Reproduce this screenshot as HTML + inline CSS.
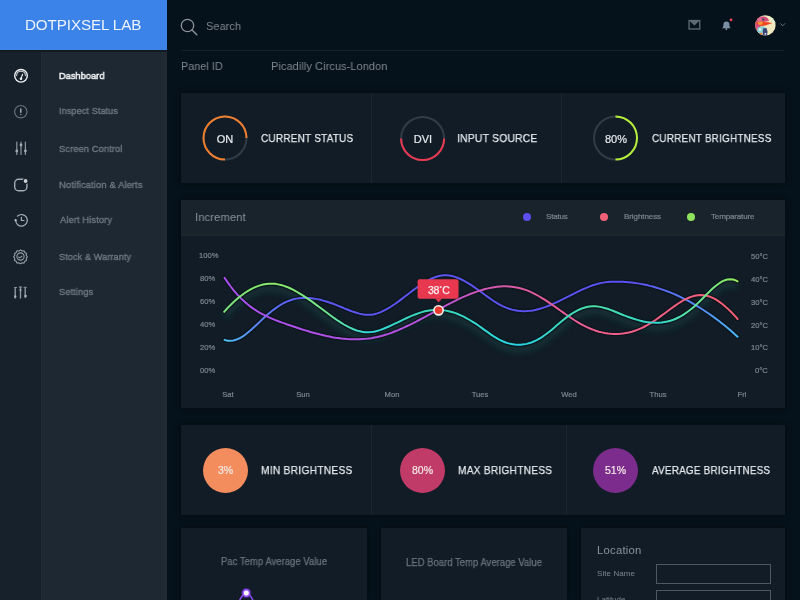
<!DOCTYPE html>
<html><head><meta charset="utf-8"><title>Dashboard</title>
<style>
*{margin:0;padding:0;box-sizing:border-box}
html,body{width:800px;height:600px;overflow:hidden;background:#06121b;font-family:"Liberation Sans",Arial,sans-serif}
.a{position:absolute}
.t,.mi,.lbl,.num,.yl,.xl,.lg,.circ,.sub{will-change:transform}
.t{position:absolute;white-space:nowrap;line-height:1}
#logo{left:0;top:0;width:167px;height:50px;background:#3b83e8}
#icol{left:0;top:50px;width:41px;height:550px;background:#16212b;border-right:1px solid #141e27}
#tcol{left:41px;top:50px;width:126px;height:550px;background:#1d2832;border-left:1px solid #212c36}
.mi{position:absolute;left:58px;font-size:9.6px;color:#6f7982;white-space:nowrap;line-height:1;-webkit-text-stroke:0.35px #6f7982}
.mi.on{color:#f0f2f4;-webkit-text-stroke:0.5px #f0f2f4}
.card{position:absolute;background:#111c26;box-shadow:0 0 5px 1px rgba(0,4,8,0.45)}
.lbl{position:absolute;color:#e6eaee;font-size:11.8px;white-space:nowrap;line-height:1;-webkit-text-stroke:0.25px #e6eaee}
.num{position:absolute;color:#e6eaee;font-size:11px;text-align:center;width:46px;line-height:1;-webkit-text-stroke:0.2px #e6eaee}
.yl{position:absolute;color:#7d868f;font-size:7.6px;line-height:1;white-space:nowrap;-webkit-text-stroke:0.2px #7d868f}
.xl{position:absolute;color:#7d868f;font-size:7.6px;line-height:1;white-space:nowrap;text-align:center;width:40px;-webkit-text-stroke:0.2px #7d868f}
.lg{position:absolute;color:#7d868f;font-size:8px;line-height:1;white-space:nowrap;-webkit-text-stroke:0.2px #7d868f}
.dot{position:absolute;width:8px;height:8px;border-radius:50%}
.vdiv{position:absolute;width:1px;background:#1b252e}
.circ{position:absolute;width:45px;height:45px;border-radius:50%;color:#f3e9e6;font-size:10.5px;line-height:45px;text-align:center;-webkit-text-stroke:0.2px #f3e9e6}
.sub{position:absolute;color:#6a737c;font-size:10px;line-height:1;white-space:nowrap;-webkit-text-stroke:0.25px #6a737c}
#logo_t{left:25.02px;top:16.58px;letter-spacing:-0.105px}#search{left:206.10px;top:21.40px;letter-spacing:0.100px;transform:scaleX(0.9264);transform-origin:0 0}#panelid{left:180.52px;top:60.90px;letter-spacing:0.100px;transform:scaleX(0.9059);transform-origin:0 0}#picad{left:270.60px;top:60.90px;letter-spacing:0.100px;transform:scaleX(0.9269);transform-origin:0 0}#m1{left:58.50px;top:71.40px;letter-spacing:0.100px;transform:scaleX(0.9514);transform-origin:0 0}#m2{left:58.50px;top:105.50px;letter-spacing:0.100px;transform:scaleX(0.9485);transform-origin:0 0}#m3{left:58.94px;top:143.90px;letter-spacing:0.100px;transform:scaleX(0.9702);transform-origin:0 0}#m4{left:58.94px;top:180.38px;letter-spacing:0.100px;transform:scaleX(0.9798);transform-origin:0 0}#m5{left:59.90px;top:215.44px;letter-spacing:0.100px;transform:scaleX(0.9713);transform-origin:0 0}#m6{left:58.92px;top:251.86px;letter-spacing:0.100px;transform:scaleX(0.9513);transform-origin:0 0}#m7{left:58.92px;top:287.42px;letter-spacing:0.100px;transform:scaleX(0.9664);transform-origin:0 0}#l1{left:261.46px;top:133.38px;letter-spacing:0.300px;transform:scaleX(0.8423);transform-origin:0 0}#l2{left:456.60px;top:133.38px;letter-spacing:0.300px;transform:scaleX(0.8706);transform-origin:0 0}#l3{left:651.50px;top:133.38px;letter-spacing:0.300px;transform:scaleX(0.8368);transform-origin:0 0}#l4{left:260.52px;top:465.40px;letter-spacing:0.300px;transform:scaleX(0.8659);transform-origin:0 0}#l5{left:458.04px;top:465.40px;letter-spacing:0.300px;transform:scaleX(0.8587);transform-origin:0 0}#l6{left:652.40px;top:465.40px;letter-spacing:0.300px;transform:scaleX(0.8362);transform-origin:0 0}#incr{left:195.10px;top:212.40px;letter-spacing:0.100px;transform:scaleX(0.9508);transform-origin:0 0}#lg1{left:545.90px;top:213.38px;letter-spacing:-0.180px}#lg2{left:623.92px;top:213.38px;letter-spacing:-0.080px}#lg3{left:711.40px;top:213.38px;letter-spacing:-0.144px}#pac{left:220.50px;top:557.30px;letter-spacing:0.100px;transform:scaleX(0.9357);transform-origin:0 0}#led{left:405.50px;top:557.76px;letter-spacing:0.100px;transform:scaleX(0.9339);transform-origin:0 0}#loc{left:596.52px;top:545.36px;letter-spacing:0.231px}#site{left:596.52px;top:570.38px;letter-spacing:0.090px}
</style></head><body>
<div id="logo" class="a"></div>
<div class="t" id="logo_t" style="font-size:15.2px;color:#eef3fb">DOTPIXSEL LAB</div>
<div id="icol" class="a"></div>
<div id="tcol" class="a"></div>
<div class="a" style="left:0;top:50px;width:167px;height:2px;background:#131a22"></div>
<div class="a" style="left:162px;top:52px;width:5px;height:548px;background:#1f2a33"></div>

<!-- sidebar icons -->
<svg class="a" style="left:0;top:50px" width="41" height="260" viewBox="0 50 41 260" fill="none" stroke-linecap="round" stroke-linejoin="round">
 <g stroke="#eef0f2"><circle cx="21" cy="75.8" r="6.3" stroke-width="1.4"/><path d="M16.6 75.6a4.4 4.4 0 0 1 8.8 0" stroke-width="1.1" stroke="#c9ced3"/><path d="M21 78.6l1.6-4.3" stroke-width="1.1"/></g>
 <circle cx="21" cy="78.7" r="1.3" fill="#eef0f2"/>
 <circle cx="20.8" cy="111.7" r="6.2" stroke="#68727c" stroke-width="1.2"/>
 <path d="M20.8 109v3.2" stroke="#a3abb3" stroke-width="1.5"/><circle cx="20.8" cy="114.4" r="0.75" fill="#8a939c"/>
 <g stroke="#8d969e" stroke-width="1.2"><path d="M16.8 142v12.5M21 142v12.5M25.4 142v12.5"/></g>
 <g fill="#a2aab1"><circle cx="16.8" cy="151" r="1.4"/><circle cx="21" cy="145" r="1.4"/><circle cx="25.4" cy="151" r="1.4"/></g>
 <rect x="14.7" y="179.3" width="12.2" height="11.4" rx="3.8" stroke="#a5adb4" stroke-width="1.4"/>
 <circle cx="25.6" cy="181" r="3" fill="#16212b"/>
 <circle cx="25.6" cy="181" r="1.9" fill="#ccd1d5"/>
 <g stroke="#a6aeb5" stroke-width="1.2"><path d="M15.7 220.3A5.8 5.8 0 1 0 17.4 216.2"/><path d="M21.4 217.3v3.2h2.6"/></g>
 <circle cx="15.6" cy="220.2" r="1.1" fill="#c5cbd0"/>
 <g stroke="#959ea6" stroke-width="1.1"><path d="M20.5 249.9l1.6 1.1 1.9-0.3 0.8 1.8 1.7 0.9-0.3 1.9 1.1 1.6-1.1 1.6 0.3 1.9-1.7 0.9-0.8 1.8-1.9-0.3-1.6 1.1-1.6-1.1-1.9 0.3-0.8-1.8-1.7-0.9 0.3-1.9-1.1-1.6 1.1-1.6-0.3-1.9 1.7-0.9 0.8-1.8 1.9 0.3z"/><circle cx="20.5" cy="256.5" r="3.6"/><path d="M18.7 257l1 0.9 2.2-1.6"/></g>
 <g stroke="#8d979f" stroke-width="1.4"><path d="M15.2 288.5v9.5M20.5 287.5v10.5M25.2 288v9.5"/></g>
 <g stroke="#8d979f" stroke-width="1"><path d="M14.5 287.5h2M19.2 287h2.6M24 287.3l2.4 0"/></g>
 <g fill="#aab2b9"><circle cx="15.2" cy="296.5" r="1.2"/><circle cx="20.5" cy="290" r="1"/><circle cx="25.6" cy="296" r="1.3"/></g>
</svg>

<!-- sidebar texts -->
<div class="mi on" id="m1">Dashboard</div>
<div class="mi" id="m2">Inspect Status</div>
<div class="mi" id="m3">Screen Control</div>
<div class="mi" id="m4">Notification &amp; Alerts</div>
<div class="mi" id="m5">Alert History</div>
<div class="mi" id="m6">Stock &amp; Warranty</div>
<div class="mi" id="m7">Settings</div>

<!-- top bar -->
<svg class="a" style="left:178px;top:16px" width="24" height="24" viewBox="178 16 24 24" fill="none"><circle cx="187.5" cy="25.5" r="6.2" stroke="#8b9299" stroke-width="1.3"/><path d="M192 30l4.8 4.8" stroke="#8b9299" stroke-width="1.4" stroke-linecap="round"/></svg>
<div class="t" id="search" style="font-size:11.8px;color:#7f878e">Search</div>
<svg class="a" style="left:686px;top:16px" width="100" height="20" viewBox="686 16 100 20">
 <rect x="689.1" y="20.6" width="10.6" height="8.4" fill="none" stroke="#55606b" stroke-width="1.5"/>
 <path d="M688.6 20h11.6l-5.8 5.4z" fill="#5f6a75"/>
 <path d="M721.9 28.3c1.1-0.8 1.5-2.1 1.5-3.9a3 3 0 0 1 6 0c0 1.8 0.4 3.1 1.5 3.9z" fill="#7a8ea4"/>
 <circle cx="726.4" cy="28.9" r="1" fill="#7a8ea4"/>
 <circle cx="731" cy="19.8" r="1.9" fill="#06121b"/><circle cx="731" cy="19.8" r="1.4" fill="#ec4a5c"/>
 <path d="M780.3 23.4l2.4 2.4 2.4-2.4" fill="none" stroke="#6c7680" stroke-width="1"/>
</svg>
<svg class="a" style="left:754px;top:14px" width="23" height="23" viewBox="0 0 23 23">
 <defs><clipPath id="av"><circle cx="11.4" cy="11.4" r="10.2"/></clipPath><filter id="avb"><feGaussianBlur stdDeviation="0.5"/></filter></defs>
 <circle cx="11.4" cy="11.4" r="10.2" fill="#f1e8bf"/>
 <g clip-path="url(#av)"><g filter="url(#avb)">
  <path d="M15 1l8 0 0 9-5-2z" fill="#e4efd2"/>
  <path d="M1 9C2 4 6 2 10 2.5c3 0.3 4.5 2 5 4.5L9 8z" fill="#d64d7c"/>
  <circle cx="5.5" cy="5.5" r="2.3" fill="#e46a90"/>
  <path d="M1 8.5L10 7.5l8.5 1.5-7 2.5L2 13z" fill="#ee4824"/>
  <path d="M4 8l5-0.5-1 3-4 1z" fill="#f59a30"/>
  <path d="M0 10l4-0.5 2.5 2.5-2 5-4.5 1z" fill="#d94a78"/>
  <path d="M3.5 13.5l5-1.2 3 0.8-0.5 4-4 2.5-4-1.5z" fill="#86cfd2"/>
  <circle cx="6" cy="15.5" r="1.3" fill="#e8f4f4"/>
  <path d="M9 14.5l3.5-0.5 1 3.5-0.5 5-4.5 0z" fill="#3a4374"/>
  <circle cx="6.8" cy="20.2" r="1.4" fill="#f08440"/>
  <circle cx="11.4" cy="19.8" r="0.9" fill="#eef0f6"/>
  <circle cx="9.2" cy="5.6" r="1.1" fill="#2d5c52"/>
 </g></g>
</svg>
<div class="a" style="left:181px;top:50px;width:603px;height:1px;background:#18212a"></div>
<div class="t" id="panelid" style="font-size:11.8px;color:#7f878f">Panel ID</div>
<div class="t" id="picad" style="font-size:11.8px;color:#7f878f">Picadilly Circus-London</div>

<!-- row 1 cards -->
<div class="card" style="left:181px;top:93px;width:604px;height:90px"></div>
<div class="vdiv" style="left:371px;top:93px;height:90px"></div>
<div class="vdiv" style="left:561px;top:93px;height:90px"></div>
<svg class="a" style="left:182px;top:93px" width="604" height="90" viewBox="182 93 604 90" fill="none" stroke-width="2">
 <circle cx="225" cy="138" r="21.5" stroke="#313c47"/>
 <path d="M246.5 138A21.5 21.5 0 1 0 225 159.5" stroke="#ef7e2e"/>
 <circle cx="422.6" cy="138.5" r="21.5" stroke="#313c47"/>
 <path d="M401.1 138.5A21.5 21.5 0 0 0 444.1 138.5" stroke="#e9384f"/>
 <circle cx="615.5" cy="138" r="21.5" stroke="#313c47"/>
 <path d="M615.5 116.5A21.5 21.5 0 0 1 615.5 159.5" stroke="#b6ee3a"/>
</svg>
<div class="num" style="left:202px;top:133.5px">ON</div>
<div class="num" style="left:399.6px;top:133.5px">DVI</div>
<div class="num" style="left:592.5px;top:133.5px">80%</div>
<div class="lbl" id="l1">CURRENT STATUS</div>
<div class="lbl" id="l2">INPUT SOURCE</div>
<div class="lbl" id="l3">CURRENT BRIGHTNESS</div>

<!-- chart -->
<div class="card" style="left:181px;top:200px;width:604px;height:208px"></div>
<div class="a" style="left:181px;top:200px;width:604px;height:36px;background:#18232c;border-bottom:2px solid #1c2730"></div>
<div class="t" id="incr" style="font-size:11.8px;color:#8a939b">Increment</div>
<div class="dot" style="left:523px;top:213px;background:#5b4ff0"></div>
<div class="dot" style="left:600px;top:213px;background:#f06079"></div>
<div class="dot" style="left:687px;top:213px;background:#8fe35a"></div>
<div class="lg" id="lg1">Status</div>
<div class="lg" id="lg2">Brightness</div>
<div class="lg" id="lg3">Temparature</div>

<div class="yl" style="left:199px;top:251.5px">100%</div>
<div class="yl" style="left:200px;top:274.5px">80%</div>
<div class="yl" style="left:200px;top:297.5px">60%</div>
<div class="yl" style="left:200px;top:320.5px">40%</div>
<div class="yl" style="left:200px;top:343.5px">20%</div>
<div class="yl" style="left:200px;top:366.5px">00%</div>
<div class="yl" style="left:751px;top:252.5px">50°C</div>
<div class="yl" style="left:751px;top:275.5px">40°C</div>
<div class="yl" style="left:751px;top:298.5px">30°C</div>
<div class="yl" style="left:751px;top:321.5px">20°C</div>
<div class="yl" style="left:751px;top:343.5px">10°C</div>
<div class="yl" style="left:755px;top:366.5px">0°C</div>
<div class="xl" style="left:208px;top:390.5px">Sat</div>
<div class="xl" style="left:283px;top:390.5px">Sun</div>
<div class="xl" style="left:371.6px;top:390.5px">Mon</div>
<div class="xl" style="left:460px;top:390.5px">Tues</div>
<div class="xl" style="left:549px;top:390.5px">Wed</div>
<div class="xl" style="left:637.6px;top:390.5px">Thus</div>
<div class="xl" style="left:722px;top:390.5px">Fri</div>

<svg class="a" style="left:182px;top:236px" width="603" height="172" viewBox="182 236 604 172" fill="none">
 <defs>
  <linearGradient id="gs" gradientUnits="userSpaceOnUse" x1="224" y1="0" x2="739" y2="0">
   <stop offset="0" stop-color="#4cc2f2"/><stop offset="0.06" stop-color="#5888f2"/><stop offset="0.12" stop-color="#5a62f0"/><stop offset="0.18" stop-color="#5b55f0"/><stop offset="0.8" stop-color="#5a52f0"/><stop offset="0.92" stop-color="#5586f3"/><stop offset="1" stop-color="#4ab8f8"/>
  </linearGradient>
  <linearGradient id="gb" gradientUnits="userSpaceOnUse" x1="224" y1="0" x2="739" y2="0">
   <stop offset="0" stop-color="#a84ff2"/><stop offset="0.4" stop-color="#b253d8"/><stop offset="0.55" stop-color="#d85aa8"/><stop offset="0.75" stop-color="#ef5f8c"/><stop offset="1" stop-color="#f25e74"/>
  </linearGradient>
  <linearGradient id="gt" gradientUnits="userSpaceOnUse" x1="224" y1="0" x2="739" y2="0">
   <stop offset="0" stop-color="#78e27a"/><stop offset="0.1" stop-color="#8ae76a"/><stop offset="0.2" stop-color="#6ee38e"/><stop offset="0.28" stop-color="#33d6d8"/><stop offset="0.4" stop-color="#3ad8b6"/><stop offset="0.5" stop-color="#34d6d0"/><stop offset="0.57" stop-color="#26d2e6"/><stop offset="0.72" stop-color="#4adea6"/><stop offset="0.84" stop-color="#30d8d0"/><stop offset="0.93" stop-color="#6ae690"/><stop offset="1" stop-color="#94e85a"/>
  </linearGradient>
  <filter id="glow" x="-10%" y="-50%" width="120%" height="200%"><feGaussianBlur stdDeviation="3"/></filter>
 </defs>
 <g stroke="#141d26" stroke-width="1">
  <path d="M224.5 250v125M304.5 250v125M392.5 250v125M480.5 250v125M569.5 250v125M658.5 250v125M740.5 250v125"/>
 </g>
 <path d="M224.2,311.8L227.2,308.5L230.2,305.4L233.2,302.5L236.2,299.8L239.2,297.2L242.2,294.9L245.2,292.7L248.2,290.8L251.2,289.1L254.2,287.6L257.2,286.3L260.2,285.3L263.2,284.5L266.2,284.0L269.2,283.7L272.2,283.6L275.2,283.8L278.2,284.3L281.2,285.0L284.2,285.8L287.2,286.9L290.2,288.2L293.2,289.6L296.2,291.2L299.2,293.0L302.2,294.8L305.2,296.8L308.2,298.8L311.2,300.9L314.2,303.1L317.2,305.3L320.2,307.5L323.2,309.8L326.2,312.0L329.2,314.3L332.2,316.5L335.2,318.6L338.2,320.7L341.2,322.6L344.2,324.5L347.2,326.2L350.2,327.7L353.2,329.0L356.2,330.2L359.2,331.1L362.2,331.8L365.2,332.2L368.2,332.3L371.2,332.1L374.2,331.7L377.2,331.0L380.2,330.1L383.2,329.0L386.2,327.8L389.2,326.5L392.2,325.1L395.2,323.7L398.2,322.3L401.2,320.8L404.2,319.4L407.2,318.0L410.2,316.6L413.2,315.4L416.2,314.2L419.2,313.1L422.2,312.1L425.2,311.3L428.2,310.7L431.2,310.2L434.2,309.9L437.2,309.8L440.2,309.9L443.2,310.1L446.2,310.6L449.2,311.2L452.2,312.0L455.2,312.9L458.2,314.0L461.2,315.3L464.2,316.7L467.2,318.3L470.2,320.0L473.2,321.8L476.2,323.7L479.2,325.7L482.2,327.9L485.2,330.1L488.2,332.2L491.2,334.4L494.2,336.4L497.2,338.2L500.2,339.9L503.2,341.3L506.2,342.5L509.2,343.4L512.2,344.1L515.2,344.6L518.2,344.8L521.2,344.7L524.2,344.4L527.2,343.9L530.2,343.1L533.2,342.0L536.2,340.7L539.2,339.2L542.2,337.4L545.2,335.3L548.2,333.1L551.2,330.7L554.2,328.2L557.2,325.6L560.2,323.1L563.2,320.5L566.2,318.1L569.2,315.9L572.2,313.8L575.2,312.0L578.2,310.4L581.2,309.0L584.2,307.9L587.2,307.0L590.2,306.5L593.2,306.2L596.2,306.2L599.2,306.6L602.2,307.1L605.2,307.9L608.2,308.8L611.2,309.9L614.2,311.0L617.2,312.2L620.2,313.5L623.2,314.7L626.2,315.9L629.2,317.0L632.2,318.0L635.2,319.0L638.2,319.9L641.2,320.7L644.2,321.4L647.2,321.9L650.2,322.3L653.2,322.6L656.2,322.7L659.2,322.7L662.2,322.5L665.2,322.1L668.2,321.5L671.2,320.7L674.2,319.7L677.2,318.5L680.2,317.0L683.2,315.3L686.2,313.4L689.2,311.3L692.2,308.9L695.2,306.4L698.2,303.6L701.2,300.7L704.2,297.7L707.2,294.6L710.2,291.7L713.2,288.8L716.2,286.2L719.2,283.9L722.2,281.9L725.2,280.4L728.2,279.4L731.2,279.1L734.2,279.4L737.2,280.6L738.5,281.3" stroke="#2fa596" stroke-opacity="0.17" stroke-width="6" filter="url(#glow)" transform="translate(0,5)"/>
 <g stroke="#0a1117" stroke-opacity="0.7" stroke-width="4.5" stroke-linecap="round">
  <path d="M224.6,339.9L227.6,340.7L230.6,340.9L233.6,340.5L236.6,339.6L239.6,338.3L242.6,336.6L245.6,334.5L248.6,332.1L251.6,329.5L254.6,326.8L257.6,324.0L260.6,321.1L263.6,318.3L266.6,315.6L269.6,313.0L272.6,310.5L275.6,308.3L278.6,306.2L281.6,304.3L284.6,302.7L287.6,301.3L290.6,300.2L293.6,299.3L296.6,298.6L299.6,298.1L302.6,297.9L305.6,297.8L308.6,297.9L311.6,298.2L314.6,298.6L317.6,299.1L320.6,299.8L323.6,300.6L326.6,301.5L329.6,302.5L332.6,303.5L335.6,304.6L338.6,305.8L341.6,307.0L344.6,308.3L347.6,309.5L350.6,310.7L353.6,311.8L356.6,312.8L359.6,313.6L362.6,314.3L365.6,314.7L368.6,314.8L371.6,314.7L374.6,314.2L377.6,313.4L380.6,312.3L383.6,310.9L386.6,309.4L389.6,307.7L392.6,305.7L395.6,303.7L398.6,301.6L401.6,299.3L404.6,297.0L407.6,294.7L410.6,292.4L413.6,290.1L416.6,287.9L419.6,285.8L422.6,283.8L425.6,281.9L428.6,280.2L431.6,278.7L434.6,277.4L437.6,276.4L440.6,275.7L443.6,275.2L446.6,275.1L449.6,275.4L452.6,275.9L455.6,276.8L458.6,277.9L461.6,279.2L464.6,280.7L467.6,282.5L470.6,284.3L473.6,286.3L476.6,288.4L479.6,290.5L482.6,292.7L485.6,294.9L488.6,297.1L491.6,299.2L494.6,301.2L497.6,303.1L500.6,304.8L503.6,306.3L506.6,307.6L509.6,308.7L512.6,309.6L515.6,310.3L518.6,310.8L521.6,311.1L524.6,311.2L527.6,311.1L530.6,310.8L533.6,310.4L536.6,309.8L539.6,309.0L542.6,308.1L545.6,307.1L548.6,306.0L551.6,304.8L554.6,303.4L557.6,302.1L560.6,300.6L563.6,299.1L566.6,297.6L569.6,296.1L572.6,294.5L575.6,293.0L578.6,291.5L581.6,290.1L584.6,288.8L587.6,287.5L590.6,286.3L593.6,285.2L596.6,284.3L599.6,283.5L602.6,282.8L605.6,282.3L608.6,282.0L611.6,281.7L614.6,281.6L617.6,281.6L620.6,281.6L623.6,281.7L626.6,281.9L629.6,282.2L632.6,282.5L635.6,282.9L638.6,283.3L641.6,283.8L644.6,284.4L647.6,285.0L650.6,285.8L653.6,286.5L656.6,287.4L659.6,288.3L662.6,289.3L665.6,290.3L668.6,291.5L671.6,292.6L674.6,293.9L677.6,295.2L680.6,296.6L683.6,298.1L686.6,299.6L689.6,301.2L692.6,302.8L695.6,304.6L698.6,306.4L701.6,308.2L704.6,310.2L707.6,312.2L710.6,314.2L713.6,316.4L716.6,318.6L719.6,320.8L722.6,323.2L725.6,325.6L728.6,328.1L731.6,330.6L734.6,333.3L737.6,336.0L738.5,336.8"/><path d="M224.6,277.7L227.6,282.1L230.6,286.2L233.6,290.0L236.6,293.5L239.6,296.8L242.6,299.8L245.6,302.5L248.6,305.0L251.6,307.3L254.6,309.4L257.6,311.3L260.6,313.1L263.6,314.7L266.6,316.2L269.6,317.6L272.6,318.9L275.6,320.1L278.6,321.3L281.6,322.4L284.6,323.4L287.6,324.5L290.6,325.5L293.6,326.5L296.6,327.5L299.6,328.5L302.6,329.5L305.6,330.4L308.6,331.3L311.6,332.2L314.6,333.0L317.6,333.8L320.6,334.6L323.6,335.3L326.6,336.0L329.6,336.6L332.6,337.2L335.6,337.7L338.6,338.1L341.6,338.5L344.6,338.8L347.6,339.1L350.6,339.2L353.6,339.3L356.6,339.4L359.6,339.3L362.6,339.1L365.6,338.9L368.6,338.6L371.6,338.2L374.6,337.6L377.6,337.0L380.6,336.3L383.6,335.5L386.6,334.6L389.6,333.6L392.6,332.5L395.6,331.3L398.6,330.1L401.6,328.8L404.6,327.4L407.6,326.0L410.6,324.6L413.6,323.1L416.6,321.6L419.6,320.0L422.6,318.4L425.6,316.8L428.6,315.2L431.6,313.5L434.6,311.9L437.6,310.2L440.6,308.6L443.6,307.0L446.6,305.4L449.6,303.8L452.6,302.3L455.6,300.8L458.6,299.4L461.6,297.9L464.6,296.6L467.6,295.3L470.6,294.0L473.6,292.9L476.6,291.8L479.6,290.8L482.6,289.9L485.6,289.0L488.6,288.3L491.6,287.7L494.6,287.2L497.6,286.8L500.6,286.5L503.6,286.3L506.6,286.3L509.6,286.4L512.6,286.7L515.6,287.1L518.6,287.7L521.6,288.4L524.6,289.3L527.6,290.3L530.6,291.6L533.6,293.0L536.6,294.5L539.6,296.2L542.6,298.0L545.6,299.9L548.6,301.9L551.6,303.9L554.6,306.0L557.6,308.1L560.6,310.2L563.6,312.4L566.6,314.5L569.6,316.5L572.6,318.5L575.6,320.5L578.6,322.3L581.6,324.1L584.6,325.7L587.6,327.2L590.6,328.5L593.6,329.7L596.6,330.8L599.6,331.7L602.6,332.4L605.6,333.0L608.6,333.5L611.6,333.8L614.6,334.0L617.6,334.0L620.6,333.8L623.6,333.5L626.6,333.1L629.6,332.5L632.6,331.7L635.6,330.8L638.6,329.7L641.6,328.4L644.6,327.0L647.6,325.4L650.6,323.7L653.6,321.8L656.6,319.8L659.6,317.6L662.6,315.4L665.6,313.2L668.6,310.9L671.6,308.7L674.6,306.6L677.6,304.5L680.6,302.5L683.6,300.7L686.6,299.1L689.6,297.7L692.6,296.6L695.6,295.7L698.6,295.2L701.6,295.0L704.6,295.2L707.6,295.7L710.6,296.6L713.6,297.9L716.6,299.4L719.6,301.3L722.6,303.5L725.6,305.9L728.6,308.6L731.6,311.5L734.6,314.6L737.6,317.9L738.5,319.0"/><path d="M224.2,311.8L227.2,308.5L230.2,305.4L233.2,302.5L236.2,299.8L239.2,297.2L242.2,294.9L245.2,292.7L248.2,290.8L251.2,289.1L254.2,287.6L257.2,286.3L260.2,285.3L263.2,284.5L266.2,284.0L269.2,283.7L272.2,283.6L275.2,283.8L278.2,284.3L281.2,285.0L284.2,285.8L287.2,286.9L290.2,288.2L293.2,289.6L296.2,291.2L299.2,293.0L302.2,294.8L305.2,296.8L308.2,298.8L311.2,300.9L314.2,303.1L317.2,305.3L320.2,307.5L323.2,309.8L326.2,312.0L329.2,314.3L332.2,316.5L335.2,318.6L338.2,320.7L341.2,322.6L344.2,324.5L347.2,326.2L350.2,327.7L353.2,329.0L356.2,330.2L359.2,331.1L362.2,331.8L365.2,332.2L368.2,332.3L371.2,332.1L374.2,331.7L377.2,331.0L380.2,330.1L383.2,329.0L386.2,327.8L389.2,326.5L392.2,325.1L395.2,323.7L398.2,322.3L401.2,320.8L404.2,319.4L407.2,318.0L410.2,316.6L413.2,315.4L416.2,314.2L419.2,313.1L422.2,312.1L425.2,311.3L428.2,310.7L431.2,310.2L434.2,309.9L437.2,309.8L440.2,309.9L443.2,310.1L446.2,310.6L449.2,311.2L452.2,312.0L455.2,312.9L458.2,314.0L461.2,315.3L464.2,316.7L467.2,318.3L470.2,320.0L473.2,321.8L476.2,323.7L479.2,325.7L482.2,327.9L485.2,330.1L488.2,332.2L491.2,334.4L494.2,336.4L497.2,338.2L500.2,339.9L503.2,341.3L506.2,342.5L509.2,343.4L512.2,344.1L515.2,344.6L518.2,344.8L521.2,344.7L524.2,344.4L527.2,343.9L530.2,343.1L533.2,342.0L536.2,340.7L539.2,339.2L542.2,337.4L545.2,335.3L548.2,333.1L551.2,330.7L554.2,328.2L557.2,325.6L560.2,323.1L563.2,320.5L566.2,318.1L569.2,315.9L572.2,313.8L575.2,312.0L578.2,310.4L581.2,309.0L584.2,307.9L587.2,307.0L590.2,306.5L593.2,306.2L596.2,306.2L599.2,306.6L602.2,307.1L605.2,307.9L608.2,308.8L611.2,309.9L614.2,311.0L617.2,312.2L620.2,313.5L623.2,314.7L626.2,315.9L629.2,317.0L632.2,318.0L635.2,319.0L638.2,319.9L641.2,320.7L644.2,321.4L647.2,321.9L650.2,322.3L653.2,322.6L656.2,322.7L659.2,322.7L662.2,322.5L665.2,322.1L668.2,321.5L671.2,320.7L674.2,319.7L677.2,318.5L680.2,317.0L683.2,315.3L686.2,313.4L689.2,311.3L692.2,308.9L695.2,306.4L698.2,303.6L701.2,300.7L704.2,297.7L707.2,294.6L710.2,291.7L713.2,288.8L716.2,286.2L719.2,283.9L722.2,281.9L725.2,280.4L728.2,279.4L731.2,279.1L734.2,279.4L737.2,280.6L738.5,281.3"/>
 </g>
 <g stroke-width="2" stroke-linecap="round">
  <path d="M224.6,339.9L227.6,340.7L230.6,340.9L233.6,340.5L236.6,339.6L239.6,338.3L242.6,336.6L245.6,334.5L248.6,332.1L251.6,329.5L254.6,326.8L257.6,324.0L260.6,321.1L263.6,318.3L266.6,315.6L269.6,313.0L272.6,310.5L275.6,308.3L278.6,306.2L281.6,304.3L284.6,302.7L287.6,301.3L290.6,300.2L293.6,299.3L296.6,298.6L299.6,298.1L302.6,297.9L305.6,297.8L308.6,297.9L311.6,298.2L314.6,298.6L317.6,299.1L320.6,299.8L323.6,300.6L326.6,301.5L329.6,302.5L332.6,303.5L335.6,304.6L338.6,305.8L341.6,307.0L344.6,308.3L347.6,309.5L350.6,310.7L353.6,311.8L356.6,312.8L359.6,313.6L362.6,314.3L365.6,314.7L368.6,314.8L371.6,314.7L374.6,314.2L377.6,313.4L380.6,312.3L383.6,310.9L386.6,309.4L389.6,307.7L392.6,305.7L395.6,303.7L398.6,301.6L401.6,299.3L404.6,297.0L407.6,294.7L410.6,292.4L413.6,290.1L416.6,287.9L419.6,285.8L422.6,283.8L425.6,281.9L428.6,280.2L431.6,278.7L434.6,277.4L437.6,276.4L440.6,275.7L443.6,275.2L446.6,275.1L449.6,275.4L452.6,275.9L455.6,276.8L458.6,277.9L461.6,279.2L464.6,280.7L467.6,282.5L470.6,284.3L473.6,286.3L476.6,288.4L479.6,290.5L482.6,292.7L485.6,294.9L488.6,297.1L491.6,299.2L494.6,301.2L497.6,303.1L500.6,304.8L503.6,306.3L506.6,307.6L509.6,308.7L512.6,309.6L515.6,310.3L518.6,310.8L521.6,311.1L524.6,311.2L527.6,311.1L530.6,310.8L533.6,310.4L536.6,309.8L539.6,309.0L542.6,308.1L545.6,307.1L548.6,306.0L551.6,304.8L554.6,303.4L557.6,302.1L560.6,300.6L563.6,299.1L566.6,297.6L569.6,296.1L572.6,294.5L575.6,293.0L578.6,291.5L581.6,290.1L584.6,288.8L587.6,287.5L590.6,286.3L593.6,285.2L596.6,284.3L599.6,283.5L602.6,282.8L605.6,282.3L608.6,282.0L611.6,281.7L614.6,281.6L617.6,281.6L620.6,281.6L623.6,281.7L626.6,281.9L629.6,282.2L632.6,282.5L635.6,282.9L638.6,283.3L641.6,283.8L644.6,284.4L647.6,285.0L650.6,285.8L653.6,286.5L656.6,287.4L659.6,288.3L662.6,289.3L665.6,290.3L668.6,291.5L671.6,292.6L674.6,293.9L677.6,295.2L680.6,296.6L683.6,298.1L686.6,299.6L689.6,301.2L692.6,302.8L695.6,304.6L698.6,306.4L701.6,308.2L704.6,310.2L707.6,312.2L710.6,314.2L713.6,316.4L716.6,318.6L719.6,320.8L722.6,323.2L725.6,325.6L728.6,328.1L731.6,330.6L734.6,333.3L737.6,336.0L738.5,336.8" stroke="url(#gs)"/>
  <path d="M224.6,277.7L227.6,282.1L230.6,286.2L233.6,290.0L236.6,293.5L239.6,296.8L242.6,299.8L245.6,302.5L248.6,305.0L251.6,307.3L254.6,309.4L257.6,311.3L260.6,313.1L263.6,314.7L266.6,316.2L269.6,317.6L272.6,318.9L275.6,320.1L278.6,321.3L281.6,322.4L284.6,323.4L287.6,324.5L290.6,325.5L293.6,326.5L296.6,327.5L299.6,328.5L302.6,329.5L305.6,330.4L308.6,331.3L311.6,332.2L314.6,333.0L317.6,333.8L320.6,334.6L323.6,335.3L326.6,336.0L329.6,336.6L332.6,337.2L335.6,337.7L338.6,338.1L341.6,338.5L344.6,338.8L347.6,339.1L350.6,339.2L353.6,339.3L356.6,339.4L359.6,339.3L362.6,339.1L365.6,338.9L368.6,338.6L371.6,338.2L374.6,337.6L377.6,337.0L380.6,336.3L383.6,335.5L386.6,334.6L389.6,333.6L392.6,332.5L395.6,331.3L398.6,330.1L401.6,328.8L404.6,327.4L407.6,326.0L410.6,324.6L413.6,323.1L416.6,321.6L419.6,320.0L422.6,318.4L425.6,316.8L428.6,315.2L431.6,313.5L434.6,311.9L437.6,310.2L440.6,308.6L443.6,307.0L446.6,305.4L449.6,303.8L452.6,302.3L455.6,300.8L458.6,299.4L461.6,297.9L464.6,296.6L467.6,295.3L470.6,294.0L473.6,292.9L476.6,291.8L479.6,290.8L482.6,289.9L485.6,289.0L488.6,288.3L491.6,287.7L494.6,287.2L497.6,286.8L500.6,286.5L503.6,286.3L506.6,286.3L509.6,286.4L512.6,286.7L515.6,287.1L518.6,287.7L521.6,288.4L524.6,289.3L527.6,290.3L530.6,291.6L533.6,293.0L536.6,294.5L539.6,296.2L542.6,298.0L545.6,299.9L548.6,301.9L551.6,303.9L554.6,306.0L557.6,308.1L560.6,310.2L563.6,312.4L566.6,314.5L569.6,316.5L572.6,318.5L575.6,320.5L578.6,322.3L581.6,324.1L584.6,325.7L587.6,327.2L590.6,328.5L593.6,329.7L596.6,330.8L599.6,331.7L602.6,332.4L605.6,333.0L608.6,333.5L611.6,333.8L614.6,334.0L617.6,334.0L620.6,333.8L623.6,333.5L626.6,333.1L629.6,332.5L632.6,331.7L635.6,330.8L638.6,329.7L641.6,328.4L644.6,327.0L647.6,325.4L650.6,323.7L653.6,321.8L656.6,319.8L659.6,317.6L662.6,315.4L665.6,313.2L668.6,310.9L671.6,308.7L674.6,306.6L677.6,304.5L680.6,302.5L683.6,300.7L686.6,299.1L689.6,297.7L692.6,296.6L695.6,295.7L698.6,295.2L701.6,295.0L704.6,295.2L707.6,295.7L710.6,296.6L713.6,297.9L716.6,299.4L719.6,301.3L722.6,303.5L725.6,305.9L728.6,308.6L731.6,311.5L734.6,314.6L737.6,317.9L738.5,319.0" stroke="url(#gb)"/>
  <path d="M224.2,311.8L227.2,308.5L230.2,305.4L233.2,302.5L236.2,299.8L239.2,297.2L242.2,294.9L245.2,292.7L248.2,290.8L251.2,289.1L254.2,287.6L257.2,286.3L260.2,285.3L263.2,284.5L266.2,284.0L269.2,283.7L272.2,283.6L275.2,283.8L278.2,284.3L281.2,285.0L284.2,285.8L287.2,286.9L290.2,288.2L293.2,289.6L296.2,291.2L299.2,293.0L302.2,294.8L305.2,296.8L308.2,298.8L311.2,300.9L314.2,303.1L317.2,305.3L320.2,307.5L323.2,309.8L326.2,312.0L329.2,314.3L332.2,316.5L335.2,318.6L338.2,320.7L341.2,322.6L344.2,324.5L347.2,326.2L350.2,327.7L353.2,329.0L356.2,330.2L359.2,331.1L362.2,331.8L365.2,332.2L368.2,332.3L371.2,332.1L374.2,331.7L377.2,331.0L380.2,330.1L383.2,329.0L386.2,327.8L389.2,326.5L392.2,325.1L395.2,323.7L398.2,322.3L401.2,320.8L404.2,319.4L407.2,318.0L410.2,316.6L413.2,315.4L416.2,314.2L419.2,313.1L422.2,312.1L425.2,311.3L428.2,310.7L431.2,310.2L434.2,309.9L437.2,309.8L440.2,309.9L443.2,310.1L446.2,310.6L449.2,311.2L452.2,312.0L455.2,312.9L458.2,314.0L461.2,315.3L464.2,316.7L467.2,318.3L470.2,320.0L473.2,321.8L476.2,323.7L479.2,325.7L482.2,327.9L485.2,330.1L488.2,332.2L491.2,334.4L494.2,336.4L497.2,338.2L500.2,339.9L503.2,341.3L506.2,342.5L509.2,343.4L512.2,344.1L515.2,344.6L518.2,344.8L521.2,344.7L524.2,344.4L527.2,343.9L530.2,343.1L533.2,342.0L536.2,340.7L539.2,339.2L542.2,337.4L545.2,335.3L548.2,333.1L551.2,330.7L554.2,328.2L557.2,325.6L560.2,323.1L563.2,320.5L566.2,318.1L569.2,315.9L572.2,313.8L575.2,312.0L578.2,310.4L581.2,309.0L584.2,307.9L587.2,307.0L590.2,306.5L593.2,306.2L596.2,306.2L599.2,306.6L602.2,307.1L605.2,307.9L608.2,308.8L611.2,309.9L614.2,311.0L617.2,312.2L620.2,313.5L623.2,314.7L626.2,315.9L629.2,317.0L632.2,318.0L635.2,319.0L638.2,319.9L641.2,320.7L644.2,321.4L647.2,321.9L650.2,322.3L653.2,322.6L656.2,322.7L659.2,322.7L662.2,322.5L665.2,322.1L668.2,321.5L671.2,320.7L674.2,319.7L677.2,318.5L680.2,317.0L683.2,315.3L686.2,313.4L689.2,311.3L692.2,308.9L695.2,306.4L698.2,303.6L701.2,300.7L704.2,297.7L707.2,294.6L710.2,291.7L713.2,288.8L716.2,286.2L719.2,283.9L722.2,281.9L725.2,280.4L728.2,279.4L731.2,279.1L734.2,279.4L737.2,280.6L738.5,281.3" stroke="url(#gt)"/>
 </g>
 <rect x="418" y="279.2" width="41" height="19.4" rx="2" fill="#e8384f"/>
 <path d="M435.5 298.4l3.5 3.8 3.5-3.8z" fill="#e8384f"/>
 <circle cx="439" cy="310.3" r="4.6" fill="#e63b2e" stroke="#f4f4f4" stroke-width="1.6"/>
</svg>
<div class="t" style="left:427.6px;top:284.6px;font-size:10.5px;color:#fbeef0;letter-spacing:-0.3px;-webkit-text-stroke:0.25px #fbeef0">38<span style="font-size:6px;vertical-align:4px;margin:0 0.6px 0 0.4px">°</span>C</div>

<!-- row 2 cards -->
<div class="card" style="left:181px;top:425px;width:604px;height:90px"></div>
<div class="vdiv" style="left:371px;top:425px;height:90px"></div>
<div class="vdiv" style="left:566px;top:425px;height:90px"></div>
<div class="circ" style="left:202.7px;top:447.5px;background:#f38d5e">3%</div>
<div class="circ" style="left:399.5px;top:447.5px;background:#c13b68">80%</div>
<div class="circ" style="left:592.7px;top:447.5px;background:#7c2c8c">51%</div>
<div class="lbl" id="l4">MIN BRIGHTNESS</div>
<div class="lbl" id="l5">MAX BRIGHTNESS</div>
<div class="lbl" id="l6">AVERAGE BRIGHTNESS</div>

<!-- bottom -->
<div class="card" style="left:181px;top:528px;width:186px;height:72px"></div>
<div class="card" style="left:381px;top:528px;width:186px;height:72px"></div>
<div class="card" style="left:581px;top:528px;width:204px;height:72px"></div>
<div class="sub" id="pac">Pac Temp Average Value</div>
<div class="sub" id="led">LED Board Temp Average Value</div>
<svg class="a" style="left:230px;top:584px" width="34" height="16" viewBox="230 584 34 16" fill="none">
 <path d="M238.8 602C241 597 243.5 593.5 246.3 593.5S251.6 597 253.8 602" stroke="#8d4cf2" stroke-width="1.5"/>
 <circle cx="246.3" cy="593" r="5.2" fill="#7a3cf0" opacity="0.35"/>
 <circle cx="246.3" cy="593" r="3.9" fill="#9a55ff"/>
 <circle cx="246.3" cy="593" r="2.5" fill="#fbf8ff"/>
</svg>
<div class="t" id="loc" style="font-size:11.3px;color:#8a939b">Location</div>
<div class="t" id="site" style="font-size:8px;color:#7d868f">Site Name</div>
<div class="t" style="left:597px;top:596px;font-size:8px;color:#7d868f">Latitude</div>
<div class="a" style="left:656px;top:564px;width:115px;height:20px;border:1px solid #4d5863"></div>
<div class="a" style="left:656px;top:590px;width:115px;height:20px;border:1px solid #4d5863"></div>
</body></html>
